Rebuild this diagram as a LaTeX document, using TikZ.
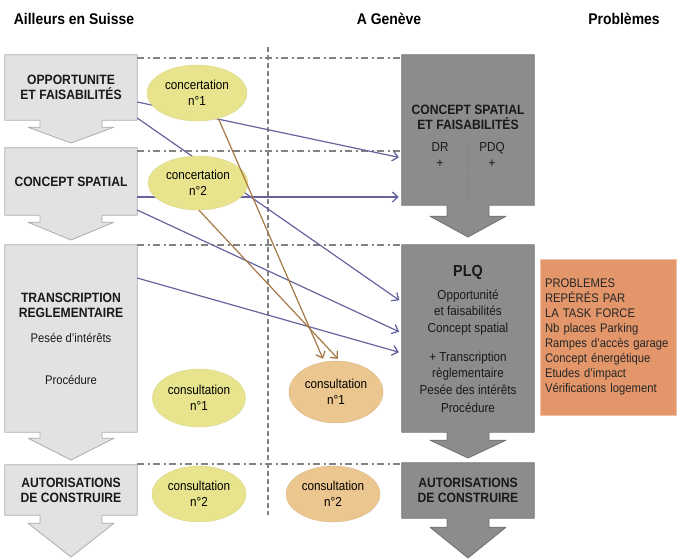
\documentclass[tikz,border=0pt]{standalone}
\usepackage{fontspec}
\setmainfont{Liberation Sans}[FakeStretch=0.9]
\usepackage{tikz}
\usetikzlibrary{shapes,arrows.meta,positioning,calc,backgrounds}
\definecolor{stagelight}{RGB}{226,226,226}
\definecolor{stagelightedge}{RGB}{172,172,172}
\definecolor{stagedark}{RGB}{140,140,140}
\definecolor{stagedarkedge}{RGB}{112,112,112}
\definecolor{concertyellow}{RGB}{232,228,142}
\definecolor{consultorange}{RGB}{235,198,142}
\definecolor{taskorange}{RGB}{226,150,106}
\definecolor{linkblue}{RGB}{102,100,158}
\definecolor{linkbrown}{RGB}{166,120,70}
\definecolor{guidegray}{RGB}{130,130,130}

\begin{document}
\begin{tikzpicture}[x=1pt, y=-1pt,
    heading/.style={font=\fontsize{15.5}{18}\selectfont\bfseries},
    stage/.style={rectangle, minimum width=132pt, inner sep=0pt, align=center, text=black!90, font=\fontsize{13.5}{15}\selectfont\bfseries},
    stagenote/.style={align=center, inner sep=0pt, text=black!90, font=\fontsize{13}{16}\selectfont},
    meeting/.style={ellipse, inner sep=0pt, align=center, fill=concertyellow, draw=concertyellow!85!gray, font=\fontsize{13}{16}\selectfont},
    hearing/.style={meeting, fill=consultorange, draw=consultorange!85!gray},
    problem/.style={rectangle, fill=taskorange, draw=taskorange!60!white, minimum width=136pt, minimum height=156pt, text width=126pt, align=left, text=black!85, font=\fontsize{12.5}{14.9}\selectfont},
    lightedge/.style={fill=stagelight, draw=stagelightedge, line width=0.8pt, line join=round},
    darkedge/.style={fill=stagedark, draw=stagedarkedge, line width=0.8pt, line join=round},
    guide/.style={guidegray, line width=1.2pt, dash pattern=on 7pt off 3.5pt on 2pt off 3.5pt},
    linkarrow/.style={linkblue, line width=1.2pt, -{Straight Barb[length=5.5pt,width=10pt,line width=1.3pt]}, shorten >=3pt},
    brownarrow/.style={linkbrown, line width=1.2pt, -{Straight Barb[length=5.5pt,width=10pt,line width=1.3pt]}}
]
    \useasboundingbox (0,0) rectangle (683,558);

    % column headings
    \node[heading] (hsuisse) at (74,19) {Ailleurs en Suisse};
    \node[heading] (hgeneve) at (389,19) {A Genève};
    \node[heading] (hprob) at (624,19) {Problèmes};

    % stages elsewhere in Switzerland
    \node[stage, minimum height=65pt] (sl1) at (71,87.5) {OPPORTUNITE\\ET FAISABILITÉS};
    \node[stage, minimum height=67pt] (sl2) at (71,181.5) {CONCEPT SPATIAL};
    \node[stage, minimum height=187pt] (sl3) at (71,338.5) {TRANSCRIPTION\\REGLEMENTAIRE\\[10pt]{\mdseries\fontsize{12.5}{15}\selectfont Pesée d'intérêts}\\[27pt]{\mdseries\fontsize{12.5}{15}\selectfont Procédure}};
    \node[stage, minimum height=50pt] (sl4) at (71,490) {AUTORISATIONS\\DE CONSTRUIRE};

    % stages in Geneva
    \node[stage, minimum height=150pt] (sr1) at (468,130) {};
    \node[stage] (sr1title) at (468,117.5) {CONCEPT SPATIAL\\ET FAISABILITÉS};
    \node[stagenote] (dr) at (440,155) {DR\\+};
    \node[stagenote] (pdq) at (492,155) {PDQ\\+};
    \node[stage, minimum height=187pt] (sr2) at (468,338.5) {};
    \node[stage, font=\fontsize{16}{16}\selectfont\bfseries] (sr2title) at (468,272) {PLQ};
    \node[stagenote] (sr2body) at (468,351) {Opportunité\\et faisabilités\\[1pt]Concept spatial\\[13pt]+ Transcription\\règlementaire\\[1pt]Pesée des intérêts\\[2pt]Procédure};
    \node[stage, minimum height=55pt] (sr3) at (468,490.5) {AUTORISATIONS\\DE CONSTRUIRE};

    % concertations and consultations
    \node[meeting, minimum width=100pt, minimum height=56pt] (cc1) at (197,93) {concertation\\n°1};
    \node[meeting, minimum width=100pt, minimum height=54pt] (cc2) at (198,183) {concertation\\n°2};
    \node[meeting, minimum width=93pt, minimum height=58pt] (cl1) at (199,398) {consultation\\n°1};
    \node[meeting, minimum width=94pt, minimum height=56pt] (cl2) at (199,494) {consultation\\n°2};
    \node[hearing, minimum width=94pt, minimum height=62pt] (cr1) at (336,392) {consultation\\n°1};
    \node[hearing, minimum width=94pt, minimum height=56pt] (cr2) at (333,494) {consultation\\n°2};

    % task force box
    \node[problem] (tf) at (608,337) {PROBLEMES\\REPÉRÉS PAR\\LA TASK FORCE\\Nb places Parking\\Rampes d'accès garage\\Concept énergétique\\Etudes d'impact\\Vérifications logement};

    \begin{scope}[on background layer]
        % arrow shaped boxes
        \foreach \n/\tip/\st in {sl1/143/7, sl2/240/7, sl3/460/6, sl4/557/8}
            \draw[lightedge] (\n.north west) -- (\n.north east) -- (\n.south east)
                -- ($(\n.south)+(31,0)$) -- ($(\n.south)+(31,\st)$) -- ($(\n.south)+(43,\st)$)
                -- (\n.south |- 0,\tip)
                -- ($(\n.south)+(-43,\st)$) -- ($(\n.south)+(-31,\st)$) -- ($(\n.south)+(-31,0)$)
                -- (\n.south west) -- cycle;
        \foreach \n/\tip/\st in {sr1/237/11, sr2/458/8, sr3/558/9}
            \draw[darkedge] (\n.north west) -- (\n.north east) -- (\n.south east)
                -- ($(\n.south)+(21,0)$) -- ($(\n.south)+(21,\st)$) -- ($(\n.south)+(38,\st)$)
                -- (\n.south |- 0,\tip)
                -- ($(\n.south)+(-38,\st)$) -- ($(\n.south)+(-21,\st)$) -- ($(\n.south)+(-21,0)$)
                -- (\n.south west) -- cycle;
        \draw[black!55, line width=0.8pt, dotted] (sr1.center |- 0,145) -- (sr1.center |- 0,203);

        % guide lines
        \draw[guide] (sl1.east |- 0,58) -- (sr1.west |- 0,58);
        \draw[guide] (sl2.east |- 0,151) -- (sr1.west |- 0,151);
        \draw[guide] (sl3.east |- 0,245) -- (sr2.west |- 0,245);
        \draw[guide] (sl4.east |- 0,464) -- (sr3.west |- 0,464);
        \draw[guidegray, line width=1.2pt, dash pattern=on 5pt off 3pt] (268,47) -- (268,515);

        % links between the two procedures
        \draw[linkarrow] (sl1.east |- 0,102) -- (sr1.west |- 0,158);
        \draw[linkarrow] (sl1.east |- 0,118) -- (sr2.west |- 0,302);
        \draw[linkarrow] (sl2.east |- 0,197) -- (sr1.west |- 0,197);
        \draw[linkarrow] (sl2.east |- 0,210) -- (sr2.west |- 0,333);
        \draw[linkarrow] (sl3.east |- 0,278) -- (sr2.west |- 0,353);
    \end{scope}

    \draw[brownarrow] (cc1.-50) -- ([xshift=-13pt, yshift=2pt]cr1.north);
    \draw[brownarrow] (cc2.-88) -- ([xshift=2pt, yshift=2pt]cr1.north);
\end{tikzpicture}
\end{document}
